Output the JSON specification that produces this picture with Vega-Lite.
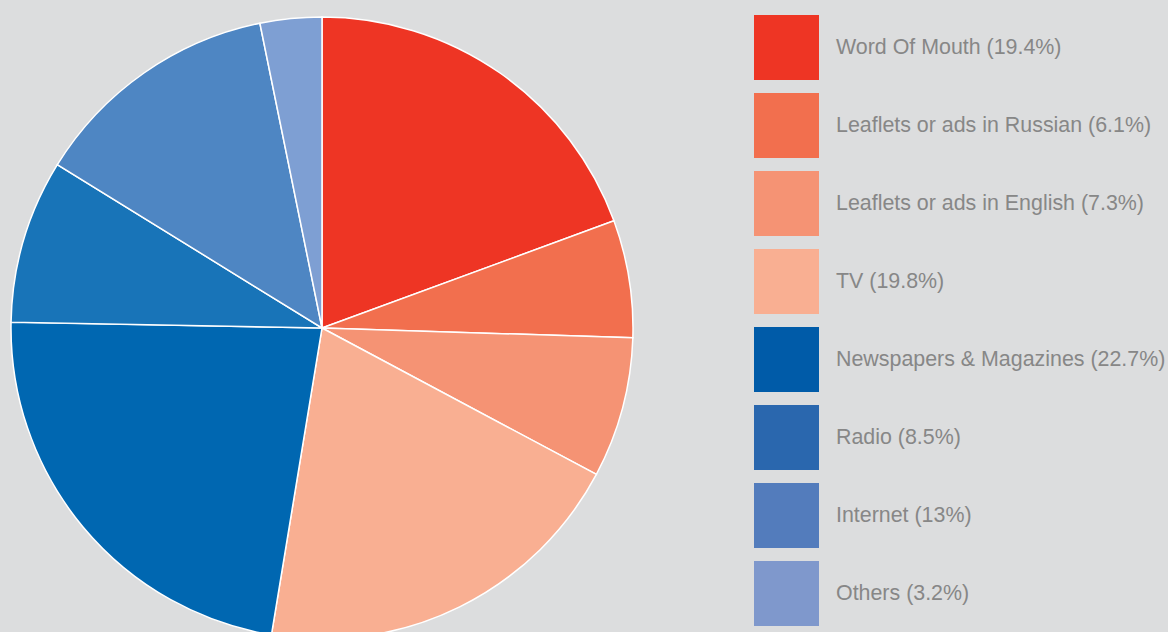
{
  "$schema": "https://vega.github.io/schema/vega-lite/v6.json",
  "width": 644,
  "height": 656,
  "autosize": {"type": "none"},
  "padding": {"left": 0, "top": 0, "right": 524, "bottom": -24},
  "background": "#DCDDDE",
  "config": {"view": {"stroke": null}},
  "data": {
    "values": [
      {"label": "Word Of Mouth (19.4%)", "order": 1, "pct": 19.4},
      {"label": "Leaflets or ads in Russian (6.1%)", "order": 2, "pct": 6.1},
      {"label": "Leaflets or ads in English (7.3%)", "order": 3, "pct": 7.3},
      {"label": "TV (19.8%)", "order": 4, "pct": 19.8},
      {"label": "Newspapers & Magazines (22.7%)", "order": 5, "pct": 22.7},
      {"label": "Radio (8.5%)", "order": 6, "pct": 8.5},
      {"label": "Internet (13%)", "order": 7, "pct": 13},
      {"label": "Others (3.2%)", "order": 8, "pct": 3.2}
    ]
  },
  "encoding": {
    "theta": {"field": "pct", "type": "quantitative", "stack": true},
    "order": {"field": "order", "type": "quantitative"}
  },
  "layer": [
    {
      "mark": {"type": "arc", "outerRadius": 311, "stroke": "#FFFFFF", "strokeWidth": 1.5},
      "encoding": {
        "color": {
          "field": "label",
          "type": "nominal",
          "scale": {
            "domain": ["Word Of Mouth (19.4%)", "Leaflets or ads in Russian (6.1%)", "Leaflets or ads in English (7.3%)", "TV (19.8%)", "Newspapers & Magazines (22.7%)", "Radio (8.5%)", "Internet (13%)", "Others (3.2%)"],
            "range": ["#EE3524", "#F26F4E", "#F59374", "#F9AF92", "#0067B1", "#1874B8", "#4E86C3", "#7E9FD3"]
          },
          "legend": null
        }
      }
    },
    {
      "mark": {"type": "arc", "outerRadius": 311, "opacity": 0},
      "encoding": {
        "color": {
          "field": "label",
          "type": "nominal",
          "scale": {
            "domain": ["Word Of Mouth (19.4%)", "Leaflets or ads in Russian (6.1%)", "Leaflets or ads in English (7.3%)", "TV (19.8%)", "Newspapers & Magazines (22.7%)", "Radio (8.5%)", "Internet (13%)", "Others (3.2%)"],
            "range": ["#EE3524", "#F26F4E", "#F59374", "#F9AF92", "#005BA8", "#2A67AE", "#537CBC", "#7F98CC"]
          },
          "legend": {
            "orient": "none",
            "legendX": 754,
            "legendY": 15,
            "title": null,
            "symbolType": "square",
            "symbolSize": 4225,
            "symbolStrokeWidth": 0,
            "symbolOpacity": 1,
            "rowPadding": 13,
            "labelOffset": 17,
            "labelFont": "Liberation Sans",
            "labelFontSize": 21.4,
            "labelColor": "#878787",
            "labelLimit": 500,
            "padding": 0
          }
        }
      }
    }
  ],
  "resolve": {"scale": {"color": "independent"}}
}
